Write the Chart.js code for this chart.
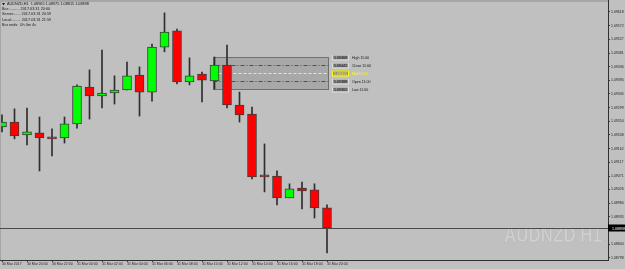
<!DOCTYPE html>
<html>
<head>
<meta charset="utf-8">
<script src="https://cdn.jsdelivr.net/npm/chart.js@4.4.1/dist/chart.umd.min.js"></script>
<style>
    html, body { margin: 0; padding: 0; background: #c0c0c0; }
    #wrap { width: 625px; height: 269px; position: relative; }
</style>
</head>
<body>
<div id="wrap"><canvas id="chart"></canvas></div>
<script>
// AUDNZD H1 - velas del 30 Mar 18:00 al 31 Mar 20:00
const openPrices  = [1.09235, 1.09251, 1.09208, 1.09215, 1.09201, 1.09198, 1.09245, 1.09368, 1.09338, 1.09348, 1.09358, 1.09408, 1.09351, 1.09501, 1.09555, 1.09385, 1.09411, 1.09388, 1.09441, 1.09308, 1.09278, 1.09071, 1.09071, 1.08998, 1.09031, 1.09025, 1.08965];
const highPrices  = [1.09275, 1.09295, 1.09298, 1.09268, 1.09228, 1.09268, 1.09375, 1.09425, 1.09491, 1.09405, 1.09451, 1.09435, 1.09511, 1.09615, 1.09561, 1.09465, 1.09418, 1.09468, 1.09508, 1.09351, 1.09301, 1.09178, 1.09088, 1.09045, 1.09051, 1.09045, 1.08975];
const lowPrices   = [1.09218, 1.09195, 1.09175, 1.09088, 1.09138, 1.09181, 1.09231, 1.09261, 1.09298, 1.09311, 1.09358, 1.09271, 1.09321, 1.09485, 1.09378, 1.09375, 1.09318, 1.09361, 1.09298, 1.09251, 1.09061, 1.09018, 1.08975, 1.08998, 1.08961, 1.08931, 1.08815];
const closePrices = [1.09251, 1.09205, 1.09218, 1.09198, 1.09195, 1.09245, 1.09371, 1.09338, 1.09348, 1.09358, 1.09405, 1.09351, 1.09501, 1.09551, 1.09385, 1.09405, 1.09391, 1.09441, 1.09308, 1.09275, 1.09068, 1.09068, 1.08998, 1.09028, 1.09021, 1.08965, 1.08898];

// Etiquetas del eje de tiempo (indice de vela -> texto)
const timeTickBars   = [0, 2, 4, 6, 8, 10, 12, 14, 16, 18, 20, 22, 24, 26];
const timeTickLabels = ['30 Mar 2017', '30 Mar 20:00', '30 Mar 22:00', '31 Mar 00:00', '31 Mar 02:00', '31 Mar 04:00', '31 Mar 06:00', '31 Mar 08:00', '31 Mar 10:00', '31 Mar 12:00', '31 Mar 14:00', '31 Mar 16:00', '31 Mar 18:00', '31 Mar 20:00'];

// Etiquetas del eje de precios
const priceTicks = [1.09618, 1.09572, 1.09527, 1.09481, 1.09436, 1.09390, 1.09345, 1.09299, 1.09254, 1.09208, 1.09162, 1.09117, 1.09071, 1.09026, 1.08980, 1.08935, 1.08844, 1.08798];

// Caja de la vela de las 11:00
const boxBar = 17;
const boxTime = '11:00';

// Texto de cabecera
const headerLines = [
    'AUDNZD,H1  1.08965 1.08975 1.08815 1.08898',
    'Bar:.......... 2017.03.31 20:00',
    'Server:...... 2017.03.31 20:59',
    'Local:........ 2017.03.31 21:59',
    'Bar ends:  0h 0m 4s'
];

const FONT = 'Liberation Sans';
const bars = openPrices.map((_, i) => i);

// Fondo gris
const backgroundPlugin = {
    id: 'background',
    beforeDraw(chart) {
        const ctx = chart.ctx;
        ctx.save();
        ctx.fillStyle = '#c0c0c0';
        ctx.fillRect(0, 0, chart.width, chart.height);
        ctx.restore();
    }
};

// Marca de agua, caja y lineas del objeto 11:00
const underlayPlugin = {
    id: 'underlay',
    beforeDatasetsDraw(chart) {
        const ctx = chart.ctx;
        const area = chart.chartArea;
        const x = chart.scales.x;
        const y = chart.scales.y;

        ctx.save();
        // marca de agua
        ctx.fillStyle = '#d0d0d0';
        ctx.strokeStyle = '#b8b8b8';
        ctx.lineWidth = 0.6;
        ctx.font = 'bold 22px "' + FONT + '"';
        ctx.textAlign = 'right';
        ctx.textBaseline = 'alphabetic';
        ctx.translate(area.right - 6, 242);
        ctx.scale(0.77, 1);
        ctx.fillText('AUDNZD H1', 0, 0);
        ctx.strokeText('AUDNZD H1', 0, 0);
        ctx.restore();

        const h = highPrices[boxBar], l = lowPrices[boxBar];
        const o = openPrices[boxBar], c = closePrices[boxBar];
        const mid = (h + l) / 2;
        const x0 = Math.round(x.getPixelForValue(boxBar - 0.15)) + 0.5;
        const x1 = Math.round(x.getPixelForValue(boxBar + 9.05)) + 0.5;
        const yh = Math.round(y.getPixelForValue(h)) + 0.5;
        const yl = Math.round(y.getPixelForValue(l)) + 0.5;

        ctx.save();
        ctx.fillStyle = 'rgba(80, 80, 80, 0.22)';
        ctx.fillRect(x0, yh, x1 - x0, yl - yh);
        ctx.strokeStyle = '#707070';
        ctx.lineWidth = 1;
        ctx.strokeRect(x0, yh, x1 - x0, yl - yh);

        const hline = (v, color, dash) => {
            const py = Math.round(y.getPixelForValue(v)) + 0.5;
            ctx.strokeStyle = color;
            ctx.setLineDash(dash);
            ctx.beginPath();
            ctx.moveTo(x0, py);
            ctx.lineTo(x1, py);
            ctx.stroke();
        };
        hline(c, '#505050', [4, 2, 1, 2]);
        hline(o, '#505050', [4, 2, 1, 2]);
        hline(mid, '#ffff00', [3, 2]);
        ctx.restore();
    }
};

// Linea de precio actual, etiquetas de la caja y cabecera
const overlayPlugin = {
    id: 'overlay',
    afterDatasetsDraw(chart) {
        const ctx = chart.ctx;
        const area = chart.chartArea;
        const x = chart.scales.x;
        const y = chart.scales.y;
        const last = closePrices[closePrices.length - 1];

        ctx.save();
        // franja superior
        ctx.fillStyle = '#a6a6a6';
        ctx.fillRect(0, 0, area.right, 2);
        ctx.fillRect(0, 0, 1, area.bottom);

        // linea de precio actual
        const py = Math.round(y.getPixelForValue(last)) + 0.5;
        ctx.strokeStyle = '#4a4a4a';
        ctx.lineWidth = 1;
        ctx.beginPath();
        ctx.moveTo(area.left, py);
        ctx.lineTo(area.right, py);
        ctx.stroke();

        // etiqueta de precio actual en el eje
        ctx.fillStyle = '#000000';
        ctx.fillRect(area.right, py - 4, chart.width - area.right, 7);
        ctx.fillStyle = '#ffffff';
        ctx.font = '3.6px "' + FONT + '"';
        ctx.textBaseline = 'middle';
        ctx.textAlign = 'left';
        ctx.fillText(last.toFixed(5), area.right + 4, py);

        // etiquetas de la caja
        const h = highPrices[boxBar], l = lowPrices[boxBar];
        const tags = [
            ['High', h, '#101010'],
            ['Close', closePrices[boxBar], '#101010'],
            ['Mid', (h + l) / 2, '#ffff00'],
            ['Open', openPrices[boxBar], '#101010'],
            ['Low', l, '#101010']
        ];
        const bx = Math.round(x.getPixelForValue(boxBar + 9.05)) + 4;
        tags.forEach(([name, v, color]) => {
            const ty = Math.round(y.getPixelForValue(v));
            ctx.fillStyle = '#8e8e8e';
            ctx.fillRect(bx, ty - 2.5, 17, 5);
            ctx.strokeStyle = color === '#ffff00' ? '#ffff00' : '#dcdcdc';
            ctx.strokeRect(bx + 0.5, ty - 2, 16, 5);
            ctx.fillStyle = color;
            ctx.fillText(v.toFixed(5), bx + 2, ty + 0.5);
            ctx.fillText(name + ' ' + boxTime, bx + 20, ty + 0.5);
        });

        // cabecera
        ctx.fillStyle = '#1a1a1a';
        ctx.font = '3.8px "' + FONT + '"';
        ctx.textBaseline = 'middle';
        headerLines.forEach((t, i) => {
            ctx.fillText(t, i === 0 ? 7 : 2, 4 + i * 5.2);
        });
        ctx.beginPath();
        ctx.moveTo(2, 3);
        ctx.lineTo(5, 3);
        ctx.lineTo(3.5, 5.5);
        ctx.closePath();
        ctx.fill();
        ctx.restore();
    }
};

const ctx = document.getElementById('chart');
new Chart(ctx, {
    type: 'bar',
    data: {
        datasets: [
            {
                label: 'mechas',
                data: bars.map(i => ({ x: i, y: [lowPrices[i], highPrices[i]] })),
                backgroundColor: '#2e2e2e',
                borderWidth: 0,
                barThickness: 1,
                grouped: false,
                order: 2
            },
            {
                label: 'cuerpos',
                data: bars.map(i => ({ x: i, y: [openPrices[i], closePrices[i]] })),
                backgroundColor: bars.map(i => closePrices[i] >= openPrices[i] ? '#00ff00' : '#ff0000'),
                borderColor: '#3c3c3c',
                borderWidth: 1,
                borderSkipped: false,
                barThickness: 9,
                minBarLength: 2,
                grouped: false,
                order: 1
            }
        ]
    },
    options: {
        responsive: true,
        maintainAspectRatio: false,
        animation: false,
        devicePixelRatio: 1,
        layout: { padding: 0 },
        plugins: {
            legend: { display: false },
            tooltip: { enabled: false },
            title: { display: false }
        },
        scales: {
            x: {
                type: 'linear',
                position: 'bottom',
                min: -0.16,
                max: 48.48,
                offset: false,
                grid: { offset: false, drawOnChartArea: false, drawTicks: true, tickLength: 2, color: '#404040' },
                border: { display: true, color: '#303030', width: 1 },
                ticks: {
                    autoSkip: false,
                    maxRotation: 0,
                    align: 'start',
                    padding: 0,
                    color: '#1e1e1e',
                    font: { family: FONT, size: 3.5 },
                    callback: (v) => {
                        const k = timeTickBars.indexOf(v);
                        return k >= 0 ? timeTickLabels[k] : '';
                    }
                },
                afterBuildTicks: (s) => { s.ticks = timeTickBars.map(v => ({ value: v })); },
                afterFit: (s) => { s.height = 9; s.paddingLeft = 0; s.paddingRight = 0; }
            },
            y: {
                type: 'linear',
                position: 'right',
                min: 1.08791,
                max: 1.09658,
                beginAtZero: false,
                grid: { drawOnChartArea: false, drawTicks: true, tickLength: 2, color: '#404040' },
                border: { display: true, color: '#303030', width: 1 },
                ticks: {
                    autoSkip: false,
                    padding: 1,
                    color: '#1e1e1e',
                    font: { family: FONT, size: 3.5 },
                    callback: (v) => v.toFixed(5)
                },
                afterBuildTicks: (s) => { s.ticks = priceTicks.map(v => ({ value: v })); },
                afterFit: (s) => { s.width = 17; s.paddingTop = 0; s.paddingBottom = 0; }
            }
        }
    },
    plugins: [backgroundPlugin, underlayPlugin, overlayPlugin]
});
</script>
</body>
</html>
